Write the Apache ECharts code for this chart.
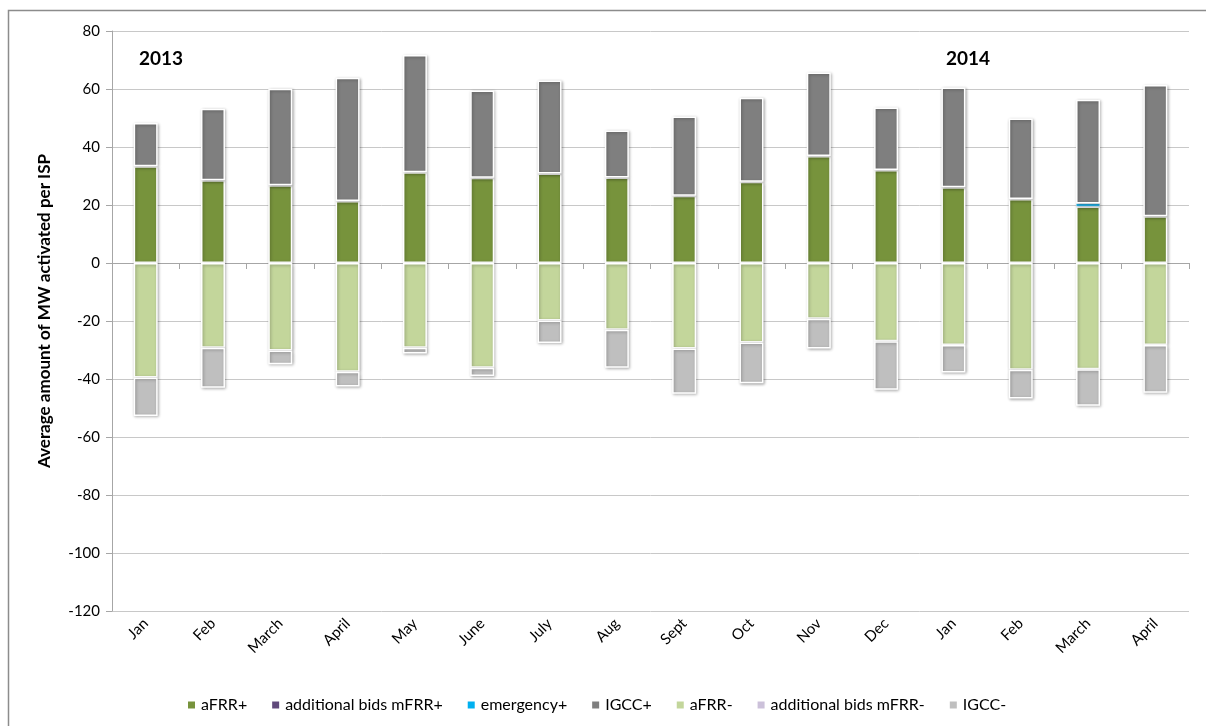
<!DOCTYPE html>
<html>
<head>
<meta charset="utf-8">
<script src="https://cdn.jsdelivr.net/npm/echarts@6/dist/echarts.min.js"></script>
<style>
html,body{margin:0;padding:0;background:#fff;}
#chart{width:1206px;height:726px;}
</style>
</head>
<body>
<div id="chart"></div>
<script>
const categories = ['Jan','Feb','March','April','May','June','July','Aug','Sept','Oct','Nov','Dec','Jan','Feb','March','April'];
const yTicks = [-120,-100,-80,-60,-40,-20,0,20,40,60,80];
const aFRRplus      = [33.4,28.5,26.8,21.4,31.3,29.4,30.9,29.5,23.2,28.0,36.9,32.1,26.1,22.1,19.5,16.1];
const addMFRRplus   = [0,0,0,0,0,0,0,0,0,0,0,0,0,0,0,0];
const emergencyPlus = [0,0,0,0,0,0,0,0,0,0,0,0,0,0,1.0,0];
const IGCCplus      = [14.9,24.7,33.3,42.5,40.4,30.1,32.0,16.2,27.3,29.0,28.8,21.5,34.4,27.7,35.8,45.3];
const aFRRminus     = [-39.5,-29.2,-30.2,-37.5,-29.2,-36.1,-19.8,-23.0,-29.5,-27.4,-19.2,-27.0,-28.3,-36.8,-36.6,-28.3];
const addMFRRminus  = [0,0,0,0,0,0,0,0,0,0,0,0,0,0,0,0];
const IGCCminus     = [-13.3,-13.8,-4.7,-5.1,-2.0,-2.9,-7.8,-13.1,-15.6,-14.1,-10.3,-16.7,-9.5,-9.9,-12.6,-16.4];
const yearLabels = ['2013','2014'];
const yTitle = 'Average amount of MW activated per ISP';

const FONT = 'Lato, "Open Sans", sans-serif';
const chart = echarts.init(document.getElementById('chart'));

function mk(name, data, color, bw) {
  return {
    name: name,
    type: 'bar',
    stack: 'total',
    barWidth: 24,
    data: data.map(v => v === 0 ? '-' : v),
    itemStyle: {
      color: color,
      borderColor: '#ffffff',
      borderWidth: bw,
      shadowBlur: 3,
      shadowColor: 'rgba(0,0,0,0.3)',
      shadowOffsetX: 1,
      shadowOffsetY: 1
    },
    emphasis: {disabled: true}
  };
}

const option = {
  animation: false,
  backgroundColor: '#ffffff',
  textStyle: {fontFamily: FONT},
  grid: {left: 112, right: 17, top: 31, bottom: 115, containLabel: false},
  graphic: [
    {type: 'rect', shape: {x: 8.5, y: 10.5, width: 1210, height: 730}, style: {fill: 'none', stroke: '#8c8c8c', lineWidth: 1.5}, silent: true},
    {type: 'text', left: 139, top: 49, style: {text: yearLabels[0], font: 'bold 19px ' + FONT, fill: '#000'}},
    {type: 'text', left: 946, top: 49, style: {text: yearLabels[1], font: 'bold 19px ' + FONT, fill: '#000'}},
    {type: 'text', x: 45, y: 311, rotation: Math.PI / 2,
     style: {text: yTitle, font: 'bold 17px ' + FONT, fill: '#000', align: 'center', verticalAlign: 'middle'}}
  ],
  legend: {
    bottom: 8,
    left: 181,
    itemWidth: 9,
    itemHeight: 9,
    itemGap: 23,
    icon: 'rect',
    textStyle: {fontSize: 16, color: '#000', fontFamily: FONT},
    data: ['aFRR+','additional bids mFRR+','emergency+','IGCC+','aFRR-','additional bids mFRR-','IGCC-']
  },
  xAxis: [
    {
      type: 'category',
      data: categories,
      position: 'bottom',
      axisLine: {show: false, onZero: false},
      axisTick: {show: false},
      axisLabel: {rotate: 45, fontSize: 15, color: '#000', margin: 10, interval: 0, fontFamily: FONT},
      splitLine: {show: false}
    },
    {
      type: 'category',
      data: categories,
      position: 'top',
      axisLine: {show: true, onZero: true, lineStyle: {color: '#a6a6a6', width: 1}},
      axisTick: {show: true, inside: true, length: 6, lineStyle: {color: '#a6a6a6'}},
      axisLabel: {show: false}
    }
  ],
  yAxis: {
    type: 'value',
    min: -120,
    max: 80,
    interval: 20,
    axisLine: {show: true, lineStyle: {color: '#a6a6a6'}},
    axisTick: {show: true, length: 6, lineStyle: {color: '#a6a6a6'}},
    axisLabel: {fontSize: 15, color: '#000', margin: 12, fontFamily: FONT,
      formatter: v => yTicks.indexOf(v) >= 0 ? String(v) : ''},
    splitLine: {show: true, lineStyle: {color: '#c8c8c8', width: 1}}
  },
  series: [
    mk('aFRR+', aFRRplus, '#77933c', 1.5),
    mk('additional bids mFRR+', addMFRRplus, '#604a7b', 1.5),
    mk('emergency+', emergencyPlus, '#00b0f0', 0.5),
    mk('IGCC+', IGCCplus, '#7f7f7f', 1.5),
    mk('aFRR-', aFRRminus, '#c3d69b', 1.5),
    mk('additional bids mFRR-', addMFRRminus, '#ccc1da', 1.5),
    mk('IGCC-', IGCCminus, '#bfbfbf', 1.5)
  ]
};
chart.setOption(option);
</script>
</body>
</html>
